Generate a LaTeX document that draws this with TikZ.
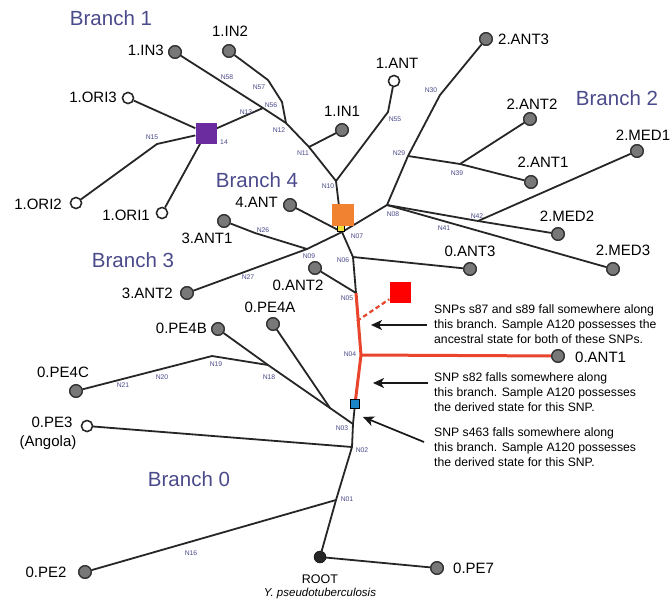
\documentclass[tikz,border=0pt]{standalone}
\usepackage{fontspec}
\setmainfont{Liberation Sans}
\usetikzlibrary{arrows.meta}
\definecolor{brc}{HTML}{4B4B8C}
\definecolor{nlc}{HTML}{4A4A8C}
\definecolor{leafg}{HTML}{787878}
\definecolor{redl}{HTML}{E8452C}
\definecolor{sqred}{HTML}{FF0000}
\definecolor{sqorange}{HTML}{F08232}
\definecolor{sqpurple}{HTML}{6A2C9E}
\definecolor{sqblue}{HTML}{1A86C8}
\definecolor{sqyellow}{HTML}{F2E03A}
\begin{document}
\begin{tikzpicture}[x=1pt,y=-1pt,
  edge/.style={line width=1.8pt, draw=black!85, line join=round},
  rededge/.style={line width=3pt, draw=redl, line join=round},
  gl/.style={circle, draw=black!80, fill=leafg, line width=1.3pt, minimum size=12.5pt, inner sep=0pt},
  ol/.style={circle, draw=black!85, fill=white, line width=1.4pt, minimum size=11pt, inner sep=0pt},
  lab/.style={font=\fontsize{15}{17}\selectfont, inner sep=0pt},
  blab/.style={font=\fontsize{20.5}{24}\selectfont, text=brc, inner sep=0pt},
  nl/.style={font=\fontsize{6.8}{8}\selectfont, text=nlc, inner sep=0pt},
  note/.style={font=\fontsize{12.2}{14.8}\selectfont, align=left, anchor=west, inner sep=0pt},
  arr/.style={-{Stealth[length=11pt,width=10pt,inset=3pt]}, line width=1.7pt, draw=black!90},
  sq/.style={rectangle, inner sep=0pt, minimum size=#1}
]
\useasboundingbox (0,0) rectangle (671,603);
\fill[white] (0,0) rectangle (671,603);

% internal coordinates
\coordinate (N01) at (336,500);
\coordinate (N02) at (352,447);
\coordinate (N03) at (353,424);
\coordinate (J) at (330,408);
\coordinate (N18) at (268,365);
\coordinate (N19) at (212,356);
\coordinate (N04) at (361,355);
\coordinate (N05) at (356,293);
\coordinate (N06) at (353,257);
\coordinate (N07) at (342,232);
\coordinate (N08) at (387,205);
\coordinate (N09) at (307,249);
\coordinate (N26) at (255,233);
\coordinate (N10) at (336,181);
\coordinate (N11) at (309,147);
\coordinate (N12) at (286,123);
\coordinate (N56) at (282,102);
\coordinate (N57) at (268,80);
\coordinate (N13) at (263,108);
\coordinate (N15) at (157,144);
\coordinate (N55) at (388,112);
\coordinate (N29) at (408,156);
\coordinate (N30) at (440,95);
\coordinate (N39) at (460,164);
\coordinate (N42) at (478,221);
\coordinate (dashA) at (357,321);
\coordinate (a1s) at (427,325);
\coordinate (a1e) at (371,325);
\coordinate (a2s) at (428,383);
\coordinate (a2e) at (373,383);
\coordinate (a3s) at (424,442);
\coordinate (a3e) at (363,417);

% leaves
\node[gl] (IN3) at (175,52) {};
\node[gl] (IN2) at (229,51) {};
\node[ol] (ORI3) at (128,98) {};
\node[ol] (ORI2) at (76,203) {};
\node[ol] (ORI1) at (162,213) {};
\node[gl] (IN1) at (342,130) {};
\node[ol] (ANT1b) at (394,81) {};
\node[gl] (ANT23) at (486,39) {};
\node[gl] (ANT22) at (530,119) {};
\node[gl] (ANT21) at (531,182) {};
\node[gl] (MED1) at (637,151) {};
\node[gl] (MED2) at (558,234) {};
\node[gl] (MED3) at (613,269) {};
\node[gl] (ANT03) at (470,269) {};
\node[gl] (ANT4) at (290,205) {};
\node[gl] (ANT31) at (224,221) {};
\node[gl] (ANT32) at (187,293) {};
\node[gl] (ANT02) at (315,268) {};
\node[gl] (ANT01) at (558,356) {};
\node[gl] (PE4A) at (273,324) {};
\node[gl] (PE4B) at (218,329) {};
\node[gl] (PE4C) at (76,391) {};
\node[ol] (PE3) at (87,426) {};
\node[gl] (PE2) at (85,572) {};
\node[gl] (PE7) at (437,568) {};
\node[circle, fill=black!85, draw=black, minimum size=12pt, inner sep=0pt] (ROOT) at (320,557) {};

% squares
\node[sq=8.5pt, fill=sqblue, draw=black, line width=1pt] (BLUE) at (355,404) {};
\node[sq=21pt, fill=sqpurple] (PURPLE) at (206,133) {};
\node[sq=21pt, fill=sqred] (RED) at (400,292) {};

% edges
\draw[edge] (IN3) -- (N13) -- (N12);
\draw[edge] (IN2) -- (N57) -- (N56) -- (N12);
\draw[edge] (N12) -- (N11) -- (N10);
\draw[edge] (N11) -- (IN1);
\draw[edge] (N10) -- (N55) -- (ANT1b);
\draw[edge] (N10) -- (N07);
\draw[edge] (N13) -- (PURPLE);
\draw[edge] (PURPLE) -- (ORI3);
\draw[edge] (PURPLE) -- (N15) -- (ORI2);
\draw[edge] (PURPLE) -- (ORI1);
\draw[edge] (ANT4) -- (N07);
\draw[edge] (N09) -- (N07) -- (N08);
\draw[edge] (N07) -- (N06) -- (N05);
\draw[edge] (N06) -- (ANT03);
\draw[edge] (ANT02) -- (N05);
\draw[edge] (N08) -- (N29) -- (N30) -- (ANT23);
\draw[edge] (N29) -- (N39) -- (ANT21);
\draw[edge] (N39) -- (ANT22);
\draw[edge] (N08) -- (N42) -- (MED2);
\draw[edge] (N42) -- (MED1);
\draw[edge] (N08) -- (MED3);
\draw[edge] (N09) -- (ANT32);
\draw[edge] (N09) -- (N26) -- (ANT31);
\draw[edge] (BLUE) -- (N03) -- (N02) -- (N01) -- (ROOT);
\draw[edge] (PE4B) -- (N18) -- (J) -- (N03);
\draw[edge] (PE4A) -- (J);
\draw[edge] (N18) -- (N19) -- (PE4C);
\draw[edge] (N02) -- (PE3);
\draw[edge] (N01) -- (PE2);
\draw[edge] (ROOT) -- (PE7);
\draw[rededge] (N05) -- (N04) -- (BLUE);
\draw[rededge] (N04) -- (ANT01);
\draw[line width=2.2pt, draw=redl, dash pattern=on 4.5pt off 3pt] (dashA) -- (RED);

% redraw leaves on top
\foreach \n in {IN3,IN2,IN1,ANT23,ANT22,ANT21,MED1,MED2,MED3,ANT03,ANT4,ANT31,ANT32,ANT02,ANT01,PE4A,PE4B,PE4C,PE2,PE7}
  \path (\n) node[gl] {};
\foreach \n in {ORI3,ORI2,ORI1,ANT1b,PE3}
  \path (\n) node[ol] {};
\node[sq=8.5pt, fill=sqblue, draw=black, line width=1pt] at (BLUE) {};
\node[sq=21pt, fill=sqpurple] at (PURPLE) {};
\node[rectangle, minimum width=7pt, minimum height=6pt, inner sep=0pt, fill=sqyellow, draw=black, line width=0.9pt] (YEL) at (341,228) {};
\node[sq=22pt, fill=sqorange] (ORANGE) at (343,215) {};

% arrows
\draw[arr] (a1s) -- (a1e);
\draw[arr] (a2s) -- (a2e);
\draw[arr] (a3s) -- (a3e);

% leaf labels
\node[lab, anchor=east] (tIN3) at (164,50) {1.IN3};
\node[lab] (tIN2) at (230,31) {1.IN2};
\node[lab, anchor=east] (tORI3) at (117,97) {1.ORI3};
\node[lab, anchor=east] (tORI2) at (62,204) {1.ORI2};
\node[lab, anchor=east] (tORI1) at (150,215) {1.ORI1};
\node[lab] (tIN1) at (342,111) {1.IN1};
\node[lab] (tANT1b) at (397,63) {1.ANT};
\node[lab, anchor=west] (tANT23) at (498,39) {2.ANT3};
\node[lab] (tANT22) at (532,104) {2.ANT2};
\node[lab] (tANT21) at (543,162) {2.ANT1};
\node[lab] (tMED1) at (643,135) {2.MED1};
\node[lab] (tMED2) at (567,216) {2.MED2};
\node[lab] (tMED3) at (623,250) {2.MED3};
\node[lab] (tANT03) at (470,251) {0.ANT3};
\node[lab, anchor=east] (tANT4) at (278,202) {4.ANT};
\node[lab] (tANT31) at (207,238) {3.ANT1};
\node[lab, anchor=east] (tANT32) at (173,293) {3.ANT2};
\node[lab] (tANT02) at (298,285) {0.ANT2};
\node[lab, anchor=west] (tANT01) at (575,357) {0.ANT1};
\node[lab] (tPE4A) at (270,307) {0.PE4A};
\node[lab, anchor=east] (tPE4B) at (207,328) {0.PE4B};
\node[lab] (tPE4C) at (63,372) {0.PE4C};
\node[lab] (tPE3) at (52,422) {0.PE3};
\node[lab] (tANG) at (48,443) {(Angola)};
\node[lab] (tPE2) at (46,572) {0.PE2};
\node[lab, anchor=west] (tPE7) at (453,568) {0.PE7};
\node[font=\fontsize{12.5}{14}\selectfont, inner sep=0pt] (tROOT) at (320,579) {ROOT};
\node[font=\fontsize{11.5}{13}\selectfont\itshape, inner sep=0pt] (tYP) at (320,594) {Y. pseudotuberculosis};

% branch labels
\node[blab] (B1) at (111,18) {Branch 1};
\node[blab] (B2) at (617,98) {Branch 2};
\node[blab] (B3) at (133,260) {Branch 3};
\node[blab] (B4) at (257,180) {Branch 4};
\node[blab] (B0) at (189,479) {Branch 0};

% node labels
\node[nl] (lN58) at (227,77) {N58};
\node[nl] (lN57) at (259,87) {N57};
\node[nl] (lN56) at (271,105) {N56};
\node[nl] (lN13) at (246,112) {N13};
\node[nl] (lN12) at (279,130) {N12};
\node[nl] (lN11) at (303,153) {N11};
\node[nl] (lN10) at (328,186) {N10};
\node[nl] (lN15) at (152,137) {N15};
\node[nl] (lN14) at (224,142) {14};
\node[nl] (lN55) at (395,119) {N55};
\node[nl] (lN30) at (431,90) {N30};
\node[nl] (lN29) at (399,153) {N29};
\node[nl] (lN39) at (457,173) {N39};
\node[nl] (lN42) at (477,216) {N42};
\node[nl] (lN41) at (444,228) {N41};
\node[nl] (lN08) at (393,214) {N08};
\node[nl] (lN07) at (357,236) {N07};
\node[nl] (lN06) at (343,260) {N06};
\node[nl] (lN09) at (309,256) {N09};
\node[nl] (lN26) at (263,230) {N26};
\node[nl] (lN27) at (248,277) {N27};
\node[nl] (lN05) at (347,298) {N05};
\node[nl] (lN04) at (350,354) {N04};
\node[nl] (lN03) at (342,428) {N03};
\node[nl] (lN02) at (362,450) {N02};
\node[nl] (lN01) at (347,499) {N01};
\node[nl] (lN18) at (269,377) {N18};
\node[nl] (lN19) at (216,364) {N19};
\node[nl] (lN20) at (162,377) {N20};
\node[nl] (lN21) at (123,385) {N21};
\node[nl] (lN16) at (191,553) {N16};

% notes
\node[note] (note1) at (434,324) {SNPs s87 and s89 fall somewhere along\\this branch. Sample A120 possesses the\\ancestral state for both of these SNPs.};
\node[note] (note2) at (434,392) {SNP s82 falls somewhere along\\this branch. Sample A120 possesses\\the derived state for this SNP.};
\node[note] (note3) at (434,447) {SNP s463 falls somewhere along\\this branch. Sample A120 possesses\\the derived state for this SNP.};
\end{tikzpicture}
\end{document}
